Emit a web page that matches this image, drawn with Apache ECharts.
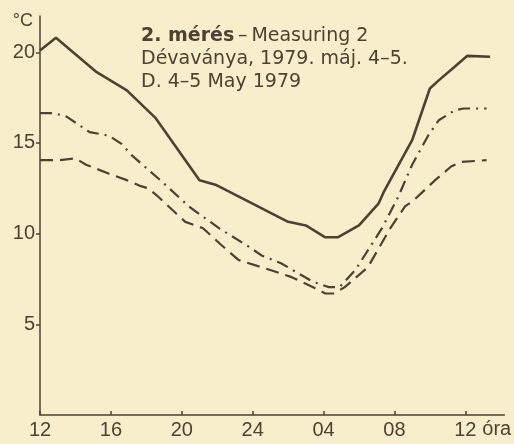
<!DOCTYPE html>
<html>
<head>
<meta charset="utf-8">
<script src="https://cdn.jsdelivr.net/npm/echarts@6/dist/echarts.min.js"></script>
<style>
  html, body { margin: 0; padding: 0; background: #f8eecb; }
  #main { width: 514px; height: 444px; }
</style>
</head>
<body>
<div id="main"></div>
<script>
// idő: órák 12:00-tól számolva (0 = 12 óra, 24 = másnap 12 óra)
var xTickValues = [0, 4, 8, 12, 16, 20, 24];
var xTickLabels = ['12', '16', '20', '24', '04', '08', '12'];
var yTickValues = [5, 10, 15, 20];

// folytonos vonal
var solidHours = [0, 0.9, 3.2, 4.9, 6.5, 9.0, 9.9, 11.5, 14.0, 15.0, 16.1, 16.8, 18.0, 19.1, 19.4, 21.0, 22.0, 22.5, 23.4, 24.1, 25.4];
var solidTemps = [20.1, 20.8, 18.9, 17.9, 16.4, 12.95, 12.7, 11.9, 10.65, 10.45, 9.8, 9.8, 10.45, 11.65, 12.3, 15.15, 18.0, 18.45, 19.2, 19.8, 19.75];

// pont-vonalas
var dashDotHours = [0, 0.75, 1.5, 2.8, 3.9, 4.6, 5.2, 6.9, 8.4, 10.1, 11.8, 12.5, 13.6, 14.6, 15.4, 16.3, 16.9, 17.8, 19.3, 20.2, 21.0, 21.9, 22.5, 23.4, 23.9, 25.2];
var dashDotTemps = [16.65, 16.65, 16.45, 15.6, 15.4, 14.95, 14.3, 12.85, 11.5, 10.3, 9.27, 8.8, 8.37, 7.8, 7.35, 7.05, 7.05, 8.0, 10.3, 12.0, 13.8, 15.4, 16.25, 16.8, 16.9, 16.9];

// szaggatott
var dashedHours = [0, 1.1, 2.0, 2.6, 3.9, 4.9, 5.6, 6.1, 6.6, 7.7, 8.2, 9.2, 10.2, 11.2, 12.5, 13.3, 14.2, 15.5, 16.1, 16.6, 17.2, 18.5, 19.8, 20.6, 21.1, 22.3, 23.2, 23.75, 25.2];
var dashedTemps = [14.05, 14.05, 14.15, 13.8, 13.3, 12.95, 12.65, 12.5, 12.1, 11.1, 10.65, 10.3, 9.4, 8.55, 8.15, 7.9, 7.6, 7.0, 6.7, 6.7, 7.05, 8.15, 10.35, 11.5, 11.85, 12.95, 13.7, 13.95, 14.05];

function pairs(xs, ys) {
  return xs.map(function (x, i) { return [x, ys[i]]; });
}

var ink = '#4d4232';
var font = 'Liberation Sans';
var titleFont = 'DejaVu Sans';

var myChart = echarts.init(document.getElementById('main'));

var option = {
  backgroundColor: '#f8eecb',
  animation: false,
  title: {
    left: 136,
    top: 20,
    text: '{b|2. mérés}{r|\u2009–\u2009Measuring 2}\n{r|Dévaványa, 1979. máj. 4–5.}\n{r|D. 4–5 May 1979}',
    textStyle: {
      fontWeight: 'normal',
      rich: {
        b: { fontFamily: titleFont, fontSize: 19, fontWeight: 'bold', color: ink, lineHeight: 23 },
        r: { fontFamily: titleFont, fontSize: 19, fontWeight: 'normal', color: ink, lineHeight: 23 }
      }
    }
  },
  grid: { left: 40, right: 7, top: 16, bottom: 29 },
  xAxis: {
    type: 'value',
    min: 0,
    max: 26.2,
    interval: 4,
    name: 'óra',
    nameLocation: 'end',
    nameGap: -25,
    nameTextStyle: {
      fontFamily: font, fontSize: 20, color: ink,
      align: 'left', verticalAlign: 'top', padding: [4, 0, 0, 0]
    },
    splitLine: { show: false },
    axisLine: { lineStyle: { color: ink, width: 1.5 } },
    axisTick: { inside: true, length: 4, lineStyle: { color: ink, width: 1.5 }, customValues: xTickValues },
    axisLabel: {
      margin: 5,
      fontFamily: font, fontSize: 20, color: ink,
      customValues: xTickValues,
      formatter: function (v) {
        var i = xTickValues.indexOf(v);
        return i < 0 ? '' : xTickLabels[i];
      }
    }
  },
  yAxis: {
    type: 'value',
    min: 0,
    max: 22,
    interval: 5,
    name: '°C',
    nameLocation: 'end',
    nameGap: -5,
    nameTextStyle: {
      fontFamily: font, fontSize: 18, color: ink,
      align: 'right', verticalAlign: 'middle', padding: [0, 7, 0, 0]
    },
    splitLine: { show: false },
    axisLine: { show: true, lineStyle: { color: ink, width: 1.5 } },
    axisTick: { show: true, length: 4, lineStyle: { color: ink, width: 1.5 }, customValues: yTickValues },
    axisLabel: {
      margin: 5,
      fontFamily: font, fontSize: 20, color: ink,
      customValues: yTickValues
    }
  },
  series: [
    {
      name: 'solid',
      type: 'line',
      symbol: 'none',
      data: pairs(solidHours, solidTemps),
      lineStyle: { color: ink, width: 2.6, type: 'solid' }
    },
    {
      name: 'dashdot',
      type: 'line',
      symbol: 'none',
      data: pairs(dashDotHours, dashDotTemps),
      lineStyle: { color: ink, width: 2.2, type: [12, 6, 2, 6] }
    },
    {
      name: 'dashed',
      type: 'line',
      symbol: 'none',
      data: pairs(dashedHours, dashedTemps),
      lineStyle: { color: ink, width: 2.2, type: [13, 7] }
    }
  ]
};

myChart.setOption(option);
</script>
</body>
</html>
